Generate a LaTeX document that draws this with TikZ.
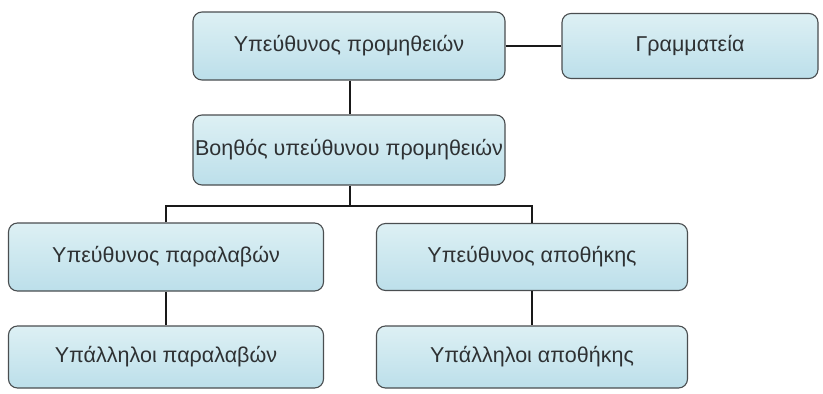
\documentclass[tikz,border=0pt]{standalone}
\usepackage{fontspec}
\setmainfont{Liberation Sans}
\definecolor{boxtop}{HTML}{DDF0F4}
\definecolor{boxbot}{HTML}{BCDFEA}
\definecolor{boxline}{HTML}{4A4E50}
\definecolor{boxtext}{HTML}{2E3133}
\begin{document}
\begin{tikzpicture}[x=1pt,y=-1pt,
  rolebox/.style={draw=boxline, line width=1.1pt, rounded corners=9pt,
    top color=boxtop, bottom color=boxbot,
    text=boxtext, font=\fontsize{21.5}{24}\selectfont, inner sep=0pt},
  link/.style={draw=black!90, line width=2pt}]
\useasboundingbox[fill=white] (0,0) rectangle (823,394);
% boxes
\node[rolebox, minimum width=312pt, minimum height=68pt] (head) at (349,46) {Υπεύθυνος προμηθειών};
\node[rolebox, minimum width=256pt, minimum height=65pt] (sec) at (690,46) {Γραμματεία};
\node[rolebox, minimum width=312pt, minimum height=70pt] (asst) at (349,150) {Βοηθός υπεύθυνου προμηθειών};
\node[rolebox, minimum width=315pt, minimum height=68pt] (recv) at (166,257) {Υπεύθυνος παραλαβών};
\node[rolebox, minimum width=311pt, minimum height=67pt] (store) at (532,257) {Υπεύθυνος αποθήκης};
\node[rolebox, minimum width=315pt, minimum height=62pt] (recvst) at (166,357) {Υπάλληλοι παραλαβών};
\node[rolebox, minimum width=311pt, minimum height=62pt] (storest) at (532,357) {Υπάλληλοι αποθήκης};
% connectors
\coordinate (bus) at (350,206);
\draw[link] (head.east) -- (sec.west);
\draw[link] (head.south -| bus) -- (asst.north -| bus);
\draw[link] (asst.south -| bus) -- (bus);
\draw[link] (recv.north) |- (bus) -| (store.north);
\draw[link] (recv) -- (recvst);
\draw[link] (store) -- (storest);
\end{tikzpicture}
\end{document}
